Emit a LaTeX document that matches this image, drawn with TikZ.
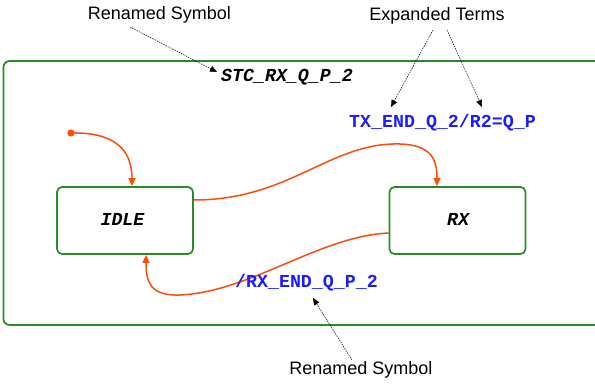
\documentclass[tikz,border=0pt]{standalone}
\usepackage{fontspec}
\setsansfont{Liberation Sans}
\newfontfamily\codefont{Liberation Mono}
\usetikzlibrary{arrows.meta}

\definecolor{stategreen}{RGB}{40,140,40}
\definecolor{transorange}{RGB}{255,76,10}
\definecolor{actionblue}{RGB}{28,28,255}

\tikzset{
  statebox/.style={draw=stategreen, line width=1.7pt, rounded corners=5pt,
    minimum width=136pt, minimum height=67pt, inner sep=0pt},
  statename/.style={font=\codefont\fontsize{18.3}{20}\selectfont\bfseries\itshape, anchor=base, inner sep=0pt},
  actionlabel/.style={font=\codefont\fontsize{18.3}{20}\selectfont\bfseries, text=actionblue, anchor=base, inner sep=0pt},
  annotation/.style={font=\sffamily\fontsize{18}{20}\selectfont, anchor=base, inner sep=0pt},
  transition/.style={draw=transorange, line width=1.5pt,
    -{Triangle[length=8pt,width=7pt]}},
  pointer/.style={draw=black, line width=0.5pt, dash pattern=on 1.5pt off 1pt,
    -{Triangle[length=7pt,width=6pt]}},
}

\begin{document}
\begin{tikzpicture}[x=1pt,y=-1pt]
  \useasboundingbox (0,0) rectangle (595,386);
  \clip (0,0) rectangle (595,386);

  % enclosing state chart
  \draw[stategreen, line width=1.7pt, rounded corners=6pt] (3.5,61) rectangle (610,325);
  \node[statename] (chartname) at (287,81) {STC\_RX\_Q\_P\_2};

  % states
  \node[statebox] (idle) at (125,220.5) {};
  \node[statename] (idlename) at (122.5,225) {IDLE};
  \node[statebox] (rx) at (457.5,220.5) {};
  \node[statename] (rxname) at (458,225.5) {RX};

  % initial pseudo-state
  \fill[transorange] (71,133) circle (3.6pt);
  \coordinate (init) at (71,133);
  \draw[transition] (init) .. controls (115,132) and (132,150) .. (idle.north -| 132,0);

  % IDLE -> RX
  \coordinate (idleout) at (idle.east |- 0,200);
  \draw[transition] (idleout) .. controls (290,200) and (330,142) .. (400,144)
    .. controls (432,145) and (437,160) .. (rx.north -| 437,0);
  \node[actionlabel] (txlabel) at (442.5,127.5) {TX\_END\_Q\_2/R2=Q\_P};

  % RX -> IDLE
  \coordinate (rxout) at (rx.west |- 0,233);
  \draw[transition] (rxout) .. controls (320,236) and (250,292) .. (180,295)
    .. controls (150,296) and (146,282) .. (idle.south -| 146,0);
  \node[actionlabel] (rxlabel) at (306.5,287.5) {/RX\_END\_Q\_P\_2};

  % annotations
  \node[annotation] (renamedtop) at (159.5,19.5) {Renamed Symbol};
  \node[annotation] (expanded) at (437,20.5) {Expanded Terms};
  \node[annotation] (renamedbot) at (361,374) {Renamed Symbol};

  \coordinate (rt0) at (130,27);
  \coordinate (rt1) at (217,72);
  \coordinate (ex0) at (433,30);
  \coordinate (ex1) at (391,107);
  \coordinate (ex2) at (447,30);
  \coordinate (ex3) at (482,107);
  \coordinate (rb0) at (352,360);
  \coordinate (rb1) at (313,298);

  \draw[pointer] (rt0) -- (rt1);
  \draw[pointer] (ex0) -- (ex1);
  \draw[pointer] (ex2) -- (ex3);
  \draw[pointer] (rb0) -- (rb1);
\end{tikzpicture}
\end{document}
